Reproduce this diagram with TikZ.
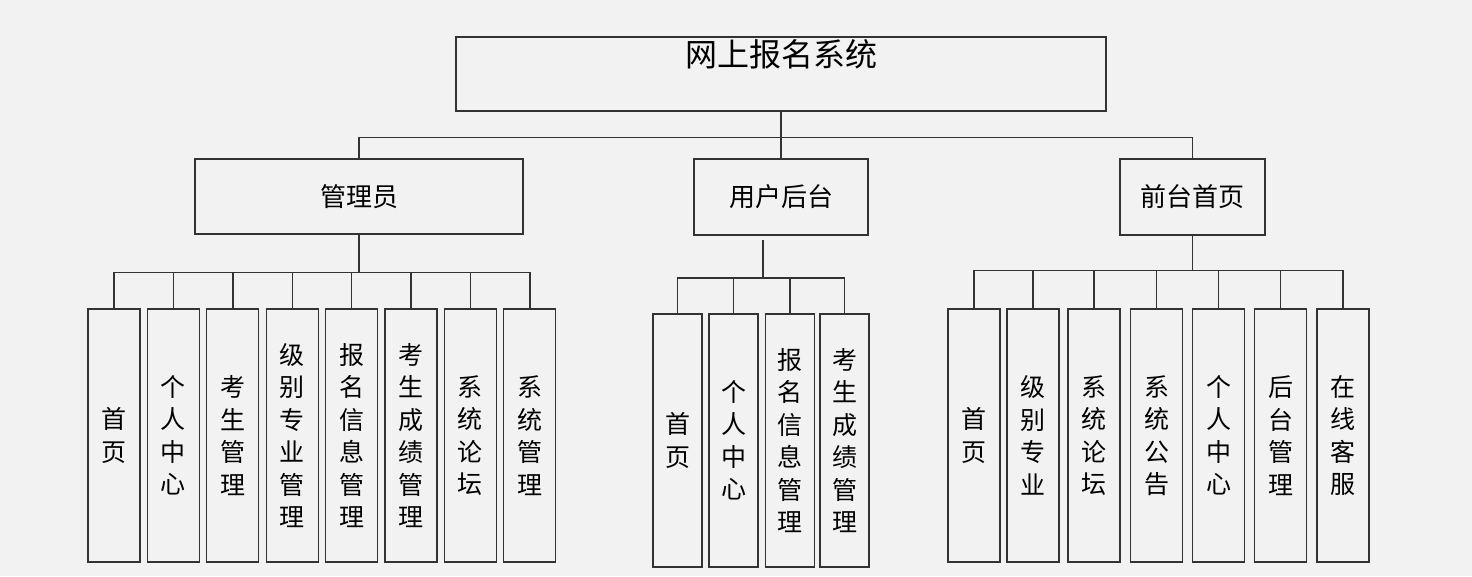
\documentclass[tikz,border=0pt]{standalone}
\usepackage{fontspec}
\newfontfamily\cjk{Noto Sans CJK SC}
\usetikzlibrary{positioning}
\definecolor{paper}{HTML}{F2F2F2}
\definecolor{edge}{HTML}{333333}

\begin{document}
\begin{tikzpicture}[x=1pt, y=-1pt,
    box/.style={draw=edge, line width=1.3pt, fill=paper, rectangle, inner sep=0pt, font=\cjk\fontsize{26}{26}\selectfont},
    leaf/.style={box, minimum width=52pt, minimum height=253pt, align=center, font=\cjk\fontsize{25}{32.5}\selectfont},
    wire/.style={draw=edge, line width=1.4pt}]
    % Page
    \fill[paper] (0,0) rectangle (1472,576);
    \useasboundingbox (0,0) rectangle (1472,576);

    % Root
    \node[box, minimum width=650pt, minimum height=74pt,
          label={[font=\cjk\fontsize{32}{32}\selectfont, anchor=north, inner sep=0pt, yshift=-3pt]north:网上报名系统}] (sys) at (781,74) {};

    % Middle layer
    \node[box, minimum width=328pt, minimum height=75pt] (admin) at (359,196.5) {管理员};
    \node[box, minimum width=174pt, minimum height=76pt] (user) at (781,197) {用户后台};
    \node[box, minimum width=145pt, minimum height=76pt] (front) at (1192.5,197) {前台首页};

    % Bottom layer
    \foreach \t [count=\i] in {{首\\页},{个\\人\\中\\心},{考\\生\\管\\理},{级\\别\\专\\业\\管\\理},
        {报\\名\\信\\息\\管\\理},{考\\生\\成\\绩\\管\\理},{系\\统\\论\\坛},{系\\统\\管\\理}} {
        \node[leaf] (a\i) at ({54.6+59.4*\i},435.5) {\t};
    }
    \foreach \x/\t [count=\i] in {677.5/{首\\页},733.5/{个\\人\\中\\心},790/{报\\名\\信\\息\\管\\理},844.5/{考\\生\\成\\绩\\管\\理}} {
        \node[leaf, minimum width=49pt] (u\i) at (\x,440.5) {\t};
    }
    \foreach \x/\t [count=\i] in {974/{首\\页},1033/{级\\别\\专\\业},1094/{系\\统\\论\\坛},1156.5/{系\\统\\公\\告},
        1218.5/{个\\人\\中\\心},1280.5/{后\\台\\管\\理},1343/{在\\线\\客\\服}} {
        \node[leaf] (f\i) at (\x,435.5) {\t};
    }

    % Connections
    \draw[wire] (sys.south) -- (user.north);
    \draw[wire] (sys.south) -- ++(0,26) -| (admin.north);
    \draw[wire] (sys.south) -- ++(0,26) -| (front.north);
    \foreach \i in {1,...,8} {
        \draw[wire] (admin.south) -- ++(0,38) -| (a\i.north);
    }
    \coordinate (ustem) at (763,240);
    \coordinate (ubus) at (763,278);
    \draw[wire] (ustem) -- (ubus);
    \foreach \i in {1,...,4} {
        \draw[wire] (ubus) -| (u\i.north);
    }
    \foreach \i in {1,...,7} {
        \draw[wire] (front.south) -- ++(0,35) -| (f\i.north);
    }
\end{tikzpicture}
\end{document}
